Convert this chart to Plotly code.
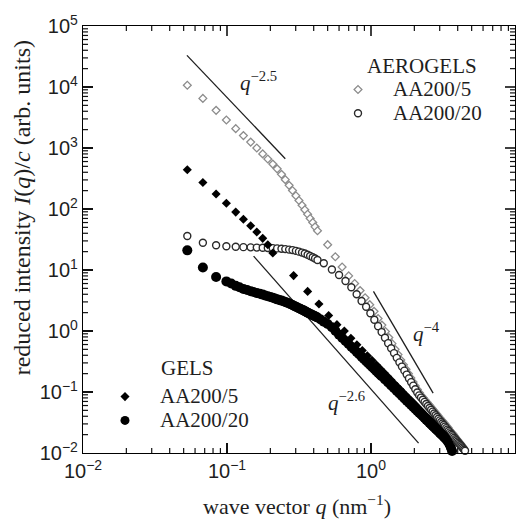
import plotly.graph_objects as go

# ---------------- data ----------------
# shared small-angle q grid (nm^-1)
q_low = [0.053, 0.068, 0.084, 0.099, 0.115, 0.130, 0.146, 0.161, 0.177, 0.192,
         0.208, 0.223, 0.239, 0.254, 0.270, 0.285, 0.301, 0.316, 0.332, 0.347,
         0.363, 0.378, 0.394, 0.409, 0.425]
# shared larger-q grid
q_high = [0.47, 0.535, 0.60, 0.665, 0.73, 0.795, 0.86, 0.925, 0.99, 1.055,
          1.12, 1.185, 1.25, 1.315, 1.38, 1.445, 1.51, 1.575, 1.64, 1.705,
          1.77, 1.835, 1.90, 1.965, 2.03, 2.095, 2.16, 2.225, 2.29, 2.355,
          2.42, 2.485, 2.55, 2.615, 2.68, 2.745, 2.81, 2.875, 2.94, 3.005,
          3.07, 3.135, 3.20, 3.265, 3.33, 3.395, 3.46, 3.525, 3.59, 3.655,
          3.72, 3.785, 3.85, 3.915, 3.98, 4.045, 4.11, 4.175, 4.24, 4.305,
          4.37, 4.435, 4.5]

# Aerogel AA200/5 (open diamonds)
aero5_I_low = [10700, 6500, 4140, 2880, 2075, 1596, 1250, 1000, 800, 661,
               545, 455, 370, 303, 244, 201, 165, 138, 115, 97,
               82, 70, 60, 51, 44]
aero5_q_high = [0.50, 0.565, 0.63, 0.70, 0.77, 0.84, 0.91, 0.98, 1.05, 1.12,
                1.19, 1.26, 1.33, 1.40, 1.47, 1.54, 1.61, 1.68, 1.75, 1.82,
                1.89, 1.96, 2.03, 2.10, 2.17, 2.24, 2.31, 2.38, 2.45, 2.52,
                2.59, 2.66, 2.73, 2.80, 2.87, 2.94, 3.01, 3.08, 3.15, 3.22,
                3.29, 3.36, 3.43, 3.50, 3.57, 3.64, 3.71, 3.78, 3.85, 3.92,
                3.99, 4.06, 4.13, 4.20, 4.27, 4.34]
aero5_I_high = [26, 16.5, 11.2, 8.0, 6.0, 4.6, 3.5, 2.7, 2.1, 1.6,
                1.25, 0.98, 0.78, 0.62, 0.50, 0.41, 0.335, 0.28, 0.235, 0.20,
                0.17, 0.146, 0.126, 0.110, 0.097, 0.087, 0.080, 0.0735, 0.068, 0.0625,
                0.058, 0.0535, 0.0496, 0.046, 0.043, 0.040, 0.0375, 0.035, 0.033, 0.031,
                0.0292, 0.0275, 0.026, 0.024, 0.0227, 0.0215, 0.0204, 0.0193, 0.0181, 0.0172,
                0.0164, 0.0155, 0.0147, 0.014, 0.0133, 0.0127]

# Aerogel AA200/20 (open circles)
aero20_I_low = [36, 28, 25.5, 24.5, 24, 23.7, 23.5, 23.3, 23.1, 23,
                22.8, 22.6, 22.3, 22, 21.6, 21.2, 20.6, 20, 19.3, 18.6,
                17.8, 17, 16.2, 15.4, 14.6]
aero20_I_high = [12.9, 10.2, 8.3, 6.6, 5.2, 4.0, 3.1, 2.5, 1.95, 1.53,
                 1.20, 0.96, 0.774, 0.632, 0.521, 0.434, 0.363, 0.306, 0.261, 0.224,
                 0.193, 0.167, 0.145, 0.127, 0.111, 0.098, 0.088, 0.081, 0.0745, 0.0688,
                 0.0636, 0.059, 0.0548, 0.051, 0.0476, 0.0444, 0.0416, 0.039, 0.0365, 0.0343,
                 0.0323, 0.0304, 0.0287, 0.0271, 0.0256, 0.0242, 0.0230, 0.0218, 0.0207, 0.0197,
                 0.0187, 0.0178, 0.0169, 0.0162, 0.0154, 0.0147, 0.0141, 0.0135, 0.0129, 0.0123,
                 0.0118, 0.0113, 0.0109]

# Gel AA200/5 (filled diamonds)
gel5_I_low = [440, 272, 176, 124, 89, 68, 53, 42, 33, 26, 19]
gel5_q_high = [0.29, 0.363, 0.435, 0.508, 0.58, 0.653, 0.725, 0.798, 0.87, 0.943,
               1.015, 1.088, 1.16, 1.233, 1.305, 1.378, 1.45, 1.523, 1.595, 1.668,
               1.74, 1.813, 1.885, 1.958, 2.03, 2.103, 2.175, 2.248, 2.32, 2.393,
               2.465, 2.538, 2.61, 2.683, 2.755, 2.828, 2.9, 2.973, 3.045, 3.118,
               3.19, 3.263, 3.335, 3.408, 3.48]
gel5_I_high = [8.1, 4.46, 2.77, 1.8, 1.27, 1.0, 0.76, 0.595, 0.48, 0.393,
               0.33, 0.279, 0.239, 0.206, 0.179, 0.157, 0.138, 0.1224, 0.110, 0.0985,
               0.0887, 0.0807, 0.0732, 0.067, 0.0611, 0.0564, 0.0518, 0.048, 0.0442, 0.0411,
               0.0381, 0.0356, 0.0334, 0.031, 0.0292, 0.0276, 0.0258, 0.0243, 0.023, 0.0216,
               0.0205, 0.0194, 0.0183, 0.0168, 0.0152]

# Gel AA200/20 (filled circles, denser sampling)
gel20_q = [0.053, 0.068, 0.084, 0.099, 0.107, 0.115, 0.122, 0.130, 0.138, 0.146,
           0.153, 0.161, 0.169, 0.177, 0.184, 0.192, 0.200, 0.208, 0.215, 0.223,
           0.231, 0.239, 0.246, 0.254, 0.262, 0.270, 0.277, 0.285, 0.293, 0.301,
           0.308, 0.316, 0.324, 0.332, 0.339, 0.347, 0.355, 0.363, 0.370, 0.378,
           0.386, 0.394, 0.401, 0.409, 0.417, 0.425, 0.447, 0.47, 0.50, 0.535,
           0.567, 0.60, 0.632, 0.665, 0.697, 0.73, 0.762, 0.795, 0.827, 0.86,
           0.892, 0.925, 0.957, 0.99, 1.022, 1.055, 1.087, 1.12, 1.152, 1.185,
           1.25, 1.315, 1.38, 1.445, 1.51, 1.575, 1.64, 1.705, 1.77, 1.835,
           1.90, 1.965, 2.03, 2.095, 2.16, 2.225, 2.29, 2.355, 2.42, 2.485,
           2.55, 2.615, 2.68, 2.745, 2.81, 2.875, 2.94, 3.005, 3.07, 3.135,
           3.20, 3.265, 3.33, 3.395, 3.46, 3.525, 3.59, 3.655, 3.72]
gel20_I = [21, 11, 7.7, 6.5, 6.0, 5.5, 5.2, 4.9, 4.7, 4.5,
           4.35, 4.2, 4.07, 3.95, 3.83, 3.72, 3.61, 3.5, 3.4, 3.3,
           3.22, 3.15, 3.07, 3.0, 2.91, 2.82, 2.74, 2.66, 2.58, 2.5,
           2.43, 2.37, 2.3, 2.24, 2.18, 2.12, 2.06, 2.0, 1.95, 1.9,
           1.86, 1.82, 1.78, 1.74, 1.70, 1.66, 1.54, 1.42, 1.30, 1.15,
           1.0, 0.87, 0.77, 0.687, 0.618, 0.554, 0.502, 0.455, 0.415, 0.380,
           0.349, 0.321, 0.297, 0.275, 0.255, 0.2375, 0.221, 0.207, 0.194, 0.182,
           0.161, 0.143, 0.128, 0.115, 0.104, 0.0945, 0.0861, 0.0787, 0.0722, 0.0665,
           0.0614, 0.0568, 0.0527, 0.049, 0.0457, 0.0427, 0.040, 0.0375, 0.0352, 0.0331,
           0.0312, 0.0294, 0.0278, 0.0263, 0.025, 0.0237, 0.0225, 0.0214, 0.0204, 0.0194,
           0.0185, 0.0177, 0.0169, 0.0158, 0.0148, 0.0136, 0.0122, 0.0108, 0.0095]

# power-law guide lines (end points)
guide_25_q = [0.0527, 0.254]
guide_25_I = [33000, 668]
guide_4_q = [1.04, 2.70]
guide_4_I = [4.46, 0.096]
guide_26_q = [0.153, 2.14]
guide_26_I = [16.9, 0.0145]

# tick labels
x_tickvals = [0.01, 0.1, 1, 10]
x_ticktext = ["10<sup>\u22122</sup>", "10<sup>\u22121</sup>", "10<sup>0</sup>", "10<sup>1</sup>"]
y_tickvals = [0.01, 0.1, 1, 10, 100, 1000, 1e4, 1e5]
y_ticktext = ["10<sup>\u22122</sup>", "10<sup>\u22121</sup>", "10<sup>0</sup>", "10<sup>1</sup>",
              "10<sup>2</sup>", "10<sup>3</sup>", "10<sup>4</sup>", "10<sup>5</sup>"]

minor_x = [m * 10.0 ** e for e in (-2, -1, 0) for m in range(2, 10)]
minor_y = [m * 10.0 ** e for e in (-2, -1, 0, 1, 2, 3, 4) for m in range(2, 10)]

# ---------------- figure ----------------
SERIF = "Liberation Serif"
SANS = "Liberation Sans"
INK = "#1e1e1e"
XR = [-2, 1]
YR = [-2, 5]

W, H = 528, 521
L, R, T, B = 83, 13, 22, 68
pw, ph = W - L - R, H - T - B

fig = go.Figure()

# ---- frame tick marks (inside, on all four sides), drawn through the log axes ----
x_lo, x_hi = 10.0 ** XR[0], 10.0 ** XR[1]
y_lo, y_hi = 10.0 ** YR[0], 10.0 ** YR[1]
dec_px_x = pw / (XR[1] - XR[0])
dec_px_y = ph / (YR[1] - YR[0])


def tick_segments(vals, length_px, vertical):
    xs, ys = [], []
    if vertical:   # ticks for the q axis (bottom and top)
        f = 10.0 ** (length_px / dec_px_y)
        for v in vals:
            if x_lo < v < x_hi:
                xs += [v, v, None, v, v, None]
                ys += [y_lo, y_lo * f, None, y_hi, y_hi / f, None]
    else:          # ticks for the intensity axis (left and right)
        f = 10.0 ** (length_px / dec_px_x)
        for v in vals:
            if y_lo < v < y_hi:
                xs += [x_lo, x_lo * f, None, x_hi, x_hi / f, None]
                ys += [v, v, None, v, v, None]
    return xs, ys


for vals, ln, vert, wd in [(x_tickvals, 10, True, 1.6), (minor_x, 5, True, 1.2),
                           (y_tickvals, 10, False, 1.6), (minor_y, 5, False, 1.2)]:
    tx, ty = tick_segments(vals, ln, vert)
    fig.add_trace(go.Scatter(x=tx, y=ty, mode="lines", showlegend=False, hoverinfo="skip",
                             line=dict(color="#111111", width=wd)))

for gq, gI in [(guide_25_q, guide_25_I), (guide_4_q, guide_4_I), (guide_26_q, guide_26_I)]:
    fig.add_trace(go.Scatter(x=gq, y=gI, mode="lines", showlegend=False,
                             line=dict(color=INK, width=1.3), hoverinfo="skip"))


def lab(s):
    return '<span style="font-size:21px">' + s + '</span>'


fig.add_trace(go.Scatter(
    x=q_low + aero5_q_high, y=aero5_I_low + aero5_I_high, mode="markers",
    name=lab("AA200/5"), legend="legend",
    marker=dict(symbol="diamond", size=6, color="white",
                line=dict(color="#8c8c8c", width=1.3)),
    cliponaxis=False))

fig.add_trace(go.Scatter(
    x=gel20_q, y=gel20_I, mode="markers",
    name=lab("AA200/20"), legend="legend2", showlegend=False,
    marker=dict(symbol="circle", size=10, color="black"),
    cliponaxis=False))

fig.add_trace(go.Scatter(
    x=q_low + q_high, y=aero20_I_low + aero20_I_high, mode="markers",
    name=lab("AA200/20"), legend="legend",
    marker=dict(symbol="circle", size=7, color="white",
                line=dict(color="#2a2a2a", width=1.4)),
    cliponaxis=False))

fig.add_trace(go.Scatter(
    x=q_low[:11] + gel5_q_high, y=gel5_I_low + gel5_I_high, mode="markers",
    name=lab("AA200/5"), legend="legend2",
    marker=dict(symbol="diamond", size=7, color="black"),
    cliponaxis=False))

# legend entry for gel AA200/20 (listed after the diamonds)
fig.add_trace(go.Scatter(
    x=[0.001], y=[1e-5], mode="markers", name=lab("AA200/20"), legend="legend2",
    marker=dict(symbol="circle", size=9, color="black"), hoverinfo="skip"))

axis_common = dict(
    type="log", showline=True, linecolor="black", linewidth=1.2, mirror=True,
    ticks="inside", ticklen=10, tickwidth=1.6, tickcolor="#111111",
    showgrid=False, zeroline=False,
    tickfont=dict(family=SANS, size=20, color=INK),
)

fig.update_xaxes(**axis_common, range=XR, tickvals=x_tickvals, ticktext=x_ticktext)
fig.update_yaxes(**axis_common, range=YR, tickvals=y_tickvals, ticktext=y_ticktext)


def px(x):
    return (x - L) / pw


def py(y):
    return (H - B - y) / ph


text_font = dict(family=SERIF, size=21, color=INK)
legend_font = dict(family=SERIF, size=16, color=INK)

fig.update_layout(
    width=W, height=H, margin=dict(l=L, r=R, t=T, b=B),
    paper_bgcolor="white", plot_bgcolor="white",
    showlegend=True,
    legend=dict(x=px(323), y=py(69), xanchor="left", yanchor="top",
                font=legend_font, bgcolor="rgba(0,0,0,0)", itemwidth=60,
                tracegroupgap=0),
    legend2=dict(x=px(90), y=py(379), xanchor="left", yanchor="top",
                 font=legend_font, bgcolor="rgba(0,0,0,0)", itemwidth=60,
                 tracegroupgap=0),
    annotations=[
        dict(text="AEROGELS", x=px(365), y=py(62), xref="paper", yref="paper",
             xanchor="left", yanchor="middle", showarrow=False, font=text_font),
        dict(text="GELS", x=px(159), y=py(367), xref="paper", yref="paper",
             xanchor="left", yanchor="middle", showarrow=False, font=text_font),
        dict(text="<i>q</i><sup>\u22122.5</sup>", x=px(238), y=py(78), xref="paper", yref="paper",
             xanchor="left", yanchor="middle", showarrow=False, font=text_font),
        dict(text="<i>q</i><sup>\u22124</sup>", x=px(411), y=py(331), xref="paper", yref="paper",
             xanchor="left", yanchor="middle", showarrow=False, font=text_font),
        dict(text="<i>q</i><sup>\u22122.6</sup>", x=px(326), y=py(401), xref="paper", yref="paper",
             xanchor="left", yanchor="middle", showarrow=False, font=text_font),
        dict(text="wave vector <i>q</i> (nm<sup>\u22121</sup>)", x=px(297), y=py(505),
             xref="paper", yref="paper", xanchor="center", yanchor="middle",
             showarrow=False, font=dict(family=SERIF, size=22, color=INK)),
        dict(text="reduced intensity <i>I</i>(<i>q</i>)/<i>c</i> (arb. units)",
             x=px(22), y=py(206), xref="paper", yref="paper", textangle=-90,
             xanchor="center", yanchor="middle", showarrow=False,
             font=dict(family=SERIF, size=24, color=INK)),
    ],
)

fig.write_html("out.html")
